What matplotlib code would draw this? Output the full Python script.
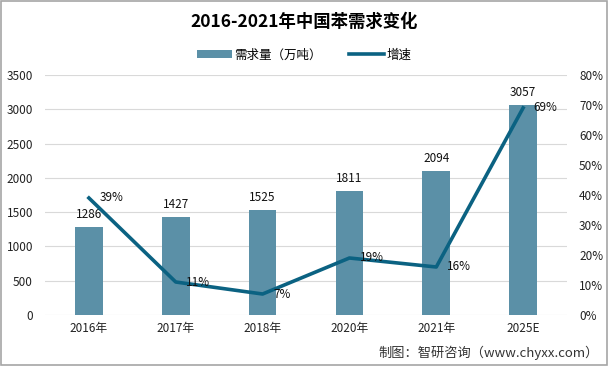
import matplotlib.pyplot as plt
from matplotlib.patches import Rectangle

plt.rcParams['font.family'] = ['Noto Sans CJK SC', 'DejaVu Sans']

years = ['2016年', '2017年', '2018年', '2020年', '2021年', '2025E']
demand = [1286, 1427, 1525, 1811, 2094, 3057]
growth = [39, 11, 7, 19, 16, 69]

bar_color = '#5b90a7'
line_color = '#0b6282'

fig = plt.figure(figsize=(6.08, 3.66), dpi=100)
ax1 = fig.add_axes([0.0748, 0.1393, 0.857, 0.656])
ax2 = ax1.twinx()

x = list(range(len(years)))
ax1.bar(x, demand, width=0.32, color=bar_color, label='需求量（万吨）', zorder=2)
ax2.plot(x, growth, color=line_color, linewidth=2.6, label='增速', zorder=3)

ax1.set_ylim(0, 3500)
ax1.set_yticks(range(0, 3501, 500))
ax2.set_ylim(0, 80)
ax2.set_yticks(range(0, 81, 10))
ax2.set_yticklabels([str(v) + '%' for v in range(0, 81, 10)])
ax1.set_xlim(-0.5, len(years) - 0.5)
ax1.set_xticks(x)
ax1.set_xticklabels(years)

ax1.grid(axis='y', color='#d9d9d9', linewidth=0.8, zorder=0)
for a in (ax1, ax2):
    for s in a.spines.values():
        s.set_visible(False)
    a.tick_params(length=0, labelsize=8.5, colors='#222222')
ax1.tick_params(axis='y', pad=9)
ax2.tick_params(axis='y', pad=9)
ax1.tick_params(axis='x', pad=5)

for i, v in enumerate(demand):
    ax1.text(i, v + 90, str(v), ha='center', va='bottom', fontsize=8.5, color='#111111', zorder=4)
for i, g in enumerate(growth):
    ax2.text(i + 0.12, g, str(g) + '%', ha='left', va='center', fontsize=8.5, color='#111111', zorder=4)

fig.text(0.5, 0.94, '2016-2021年中国苯需求变化', ha='center', va='center',
         fontsize=12.5, fontweight='bold')

h1, l1 = ax1.get_legend_handles_labels()
h2, l2 = ax2.get_legend_handles_labels()
fig.legend(h1 + h2, l1 + l2, loc='center', bbox_to_anchor=(0.5, 0.85), ncol=2,
           frameon=False, fontsize=9, handlelength=2.8, handletextpad=0.2,
           columnspacing=2.2)

fig.text(0.985, 0.035, '制图：智研咨询（www.chyxx.com）', ha='right', va='center',
         fontsize=9.5, color='#333333')

fig.patches.append(Rectangle((0.001, 0.002), 0.997, 0.995, transform=fig.transFigure,
                             fill=False, edgecolor='#a6a6a6', linewidth=1.2))

fig.savefig('out.png', dpi=100)
